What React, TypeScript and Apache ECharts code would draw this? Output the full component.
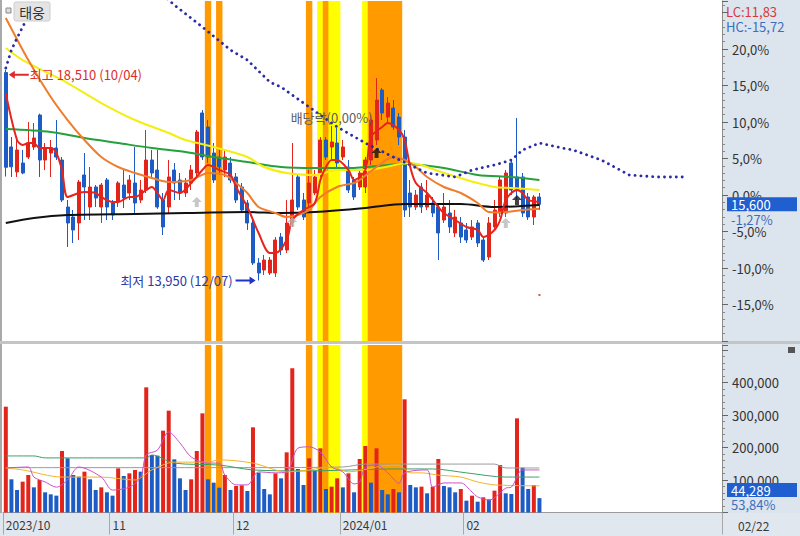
import React, { useEffect, useRef } from 'react';
import * as echarts from 'echarts';

const stockName = '태웅';
const basePrice = 15800;
const dates = [
  '10/04','10/05','10/06','10/10','10/11','10/12','10/13','10/16','10/17','10/18','10/19','10/20','10/23','10/24','10/25','10/26','10/27','10/30','10/31',
  '11/01','11/02','11/03','11/06','11/07','11/08','11/09','11/10','11/13','11/14','11/15','11/16','11/17','11/20','11/21','11/22','11/23','11/24','11/27','11/28','11/29','11/30',
  '12/01','12/04','12/05','12/06','12/07','12/08','12/11','12/12','12/13','12/14','12/15','12/18','12/19','12/20','12/21','12/22','12/26','12/27','12/28',
  '01/02','01/03','01/04','01/05','01/08','01/09','01/10','01/11','01/12','01/15','01/16','01/17','01/18','01/19','01/22','01/23','01/24','01/25','01/26','01/29','01/30','01/31',
  '02/01','02/02','02/05','02/06','02/07','02/08','02/13','02/14','02/15','02/16','02/19','02/20','02/21','02/22'
];
const futureSlots = 32;
const monthStartIdx = [0, 19, 41, 60, 82];
const monthLabels = ['2023/10', '11', '12', '2024/01', '02'];

const opens = [18450,16840,16300,16492,16622,16839,17531,16557,16709,16817,16557,15540,15324,15194,16233,15540,15973,15540,16125,15627,
  15649,16016,15843,16060,15692,15908,16557,16341,15692,15540,16341,16125,15843,16060,16276,17575,17272,16709,16622,16341,
  16492,16190,15973,15627,15194,14328,14177,14112,14112,14891,14610,15194,16190,15692,15627,15843,16276,16990,16839,16925,
  16622,16406,16125,15973,15973,16557,16990,18072,17488,17683,17488,17055,15843,15540,15973,15540,15627,15540,15259,15410,
  14978,15194,15043,14891,15194,14826,14458,15108,15410,15410,16492,16190,16190,15757,15324,15757];
const closes = [16400,16410,16774,16276,16925,17034,16557,16817,16817,16622,15692,15194,15043,16081,15973,15973,15735,16016,15540,15367,
  16060,15735,16125,15627,15908,16557,16276,15540,15108,16190,16060,15843,16060,16341,17164,16622,16622,16125,16406,16622,
  16125,15692,15475,15194,14328,14112,14393,14393,14826,14610,15194,15692,15540,15324,16060,16190,16990,16622,16947,16492,
  16839,15908,15757,16276,16557,17423,17856,17575,17791,17272,17055,15475,15540,15800,15540,15800,15410,14978,15540,15108,
  15324,14891,14826,15108,14761,14393,15194,15475,16125,16276,15908,15908,15410,15324,15757,15600];
const lows = [16200,16190,16190,16250,16580,16774,16190,16341,16190,16557,15649,14675,14761,14826,15259,15259,15540,15194,15259,15259,
  15540,15519,15692,15410,15627,15843,16190,15500,14934,15410,15692,15692,15757,15908,16190,16557,16492,16060,16233,16190,
  16060,15627,15410,15043,14285,13950,14069,14069,14026,14502,14545,15108,15475,15259,15540,15800,16190,16557,16557,16406,
  16557,15843,15692,15908,15843,16449,16882,17423,17358,17207,16882,15324,15324,15475,15410,15475,15324,14393,15194,14978,
  14891,14761,14761,14826,14675,14350,14393,15043,15324,15324,15800,15692,15324,15259,15151,15475];
const highs = [18510,17055,17055,16774,17380,17358,17560,16925,16990,17423,16622,15692,15475,16125,16709,16406,16016,16060,16168,15692,
  16100,16341,16233,16839,16125,17207,16774,16774,15843,16557,16492,16276,16168,16449,17207,17639,17423,16925,16774,16774,
  16622,16276,16060,15692,15259,14437,14502,14458,14891,14978,15692,16925,16233,15843,16341,16341,17055,17055,17293,17250,
  16990,16557,16190,16341,16622,17531,18332,18115,17921,17856,17575,17207,16125,15908,16060,16125,15757,15627,15843,15692,
  15475,15324,15194,15259,15259,14891,15324,15692,16190,16341,16557,17466,16276,15843,15800,15843];

const volumes = [325600,102100,69200,94900,115400,77400,100000,62100,55900,51800,
  189200,166700,115400,110300,125600,102100,69200,77400,62100,51800,
  135900,112300,120500,130800,125600,385100,176900,174900,251800,313300,
  163600,105100,69200,102100,189200,305100,102100,91800,76400,115400,
  69200,81500,83600,66200,262100,122600,72300,55900,120500,105100,
  185100,443600,133800,84600,166700,128700,197400,72300,79500,105100,
  77400,120500,62100,164600,204600,91800,197400,69200,55900,72300,
  62100,348200,84600,77400,79500,59000,79500,164600,81500,77400,
  62100,72300,36400,51800,33300,46700,40500,67200,146200,59000,
  56900,289700,137900,72300,84600,44289];
const volumeRatioText = '53,84%';

const ma5 = [[0,18000],[2,16990],[3,16882],[4,16925],[5,16925],[6,16817],[8,16817],[9,16709],[10,16341],[11,15757],[13,15843],[14,15865],[16,15843],[17,15757],[19,15649],[20,15649],[22,15757],[23,15757],[25,15908],[26,15973],[27,15843],[28,15692],[29,15908],[31,15843],[33,16060],[35,16341],[36,16449],[38,16341],[40,16233],[41,15973],[43,15540],[45,14978],[47,14545],[48,14545],[50,14826],[51,15259],[53,15475],[55,15627],[56,16125],[57,16406],[58,16557],[59,16557],[61,16341],[62,16125],[64,16341],[65,17055],[67,17272],[68,17358],[70,17207],[71,16990],[72,16406],[73,16060],[75,15843],[77,15540],[78,15410],[80,15259],[82,15108],[84,15043],[85,14891],[87,15043],[88,15259],[89,15692],[90,15843],[91,15908],[92,15843],[93,15692],[95,15649]];
const ma20 = [[0,19630],[4,18721],[8,17921],[11,17423],[14,16990],[17,16622],[20,16406],[23,16276],[26,16168],[29,16081],[33,16125],[36,16276],[39,16233],[41,16060],[43,15843],[45,15540],[48,15410],[50,15324],[52,15367],[54,15475],[56,15757],[59,15973],[62,16060],[63,16125],[66,16406],[69,16622],[71,16557],[73,16406],[75,16190],[78,15973],[81,15843],[84,15627],[86,15430],[88,15420],[91,15460],[95,15500]];
const ma60 = [[0,18981],[3,18721],[11,18224],[17,17791],[23,17423],[29,17142],[32,16990],[37,16839],[43,16622],[46,16406],[50,16276],[55,16233],[59,16341],[64,16341],[72,16492],[78,16276],[84,16060],[87,15973],[90,15951],[95,15908]];
const ma120 = [[0,17228],[8,17163],[14,17033],[20,16925],[26,16817],[32,16731],[37,16622],[43,16514],[49,16406],[55,16384],[61,16384],[71,16471],[78,16384],[84,16233],[90,16190],[95,16125]];
const ma240 = [[0,15194],[5,15302],[11,15367],[23,15389],[32,15410],[43,15432],[49,15410],[55,15432],[64,15519],[71,15605],[81,15605],[87,15540],[95,15584]];
const leadingSpan = [[0,18548],[1,18938],[2,19197],[3,19436],[4,19674],[5,19912],[8,20500],[18,20800],[26,20400],[29,20020],[30,19912],[35,19436],[40,18938],[43,18721],[47,18245],[49,18137],[53,17791],[59,17272],[64,16925],[69,16622],[75,16276],[80,16190],[83,16341],[87,16449],[90,16557],[92,16774],[95,16925],[99,16817],[101,16774],[106,16557],[111,16233],[116,16190],[121,16190]];

const volMa5 = [[0,137000],[4,140000],[5,109000],[7,94000],[9,78000],[11,100000],[13,140000],[17,109000],[19,69000],[22,78000],[24,109000],[25,177000],[27,192000],[29,248000],[31,214000],[33,171000],[36,152000],[38,152000],[39,115000],[41,85000],[43,85000],[45,125000],[48,122000],[50,125000],[52,198000],[54,202000],[56,186000],[58,140000],[60,125000],[62,88000],[63,94000],[64,140000],[66,146000],[68,122000],[70,90000],[71,122000],[75,131000],[76,78000],[78,91000],[81,91000],[83,63000],[84,48000],[86,38000],[89,75000],[90,78000],[92,131000],[95,131000]];
const volMa20 = [[0,137000],[3,131000],[10,109000],[17,109000],[23,100000],[26,131000],[30,155000],[36,155000],[38,162000],[44,152000],[50,125000],[54,131000],[58,140000],[61,125000],[67,143000],[70,146000],[72,122000],[74,122000],[77,115000],[81,109000],[84,94000],[87,85000],[95,82000]];
const volMa60 = [[0,174000],[5,174000],[7,168000],[25,168000],[26,177000],[30,152000],[38,146000],[44,131000],[53,128000],[70,134000],[76,134000],[82,122000],[89,109000],[95,109000]];
const volMa120 = [[0,138000],[40,138000],[60,140000],[64,149000],[70,149000],[87,149000],[89,137000],[95,137000]];

const orangeBands = [36, 38, 54, 57, 65, 66, 67, 68, 69, 70];
const yellowBands = [56, 58, 59, 64];
const grayArrows = [[34,15650],[51,15216],[89,15194]];
const blackArrows = [[66,16709],[91,15692]];
const redMarks = [[95,13636]];
const exDividendText = '배당락(0,00%)';
const exDividendAt = [58, 17488];

const UP = '#e3241b';
const DOWN = '#1d5cc4';
const FONT = "'Noto Sans CJK KR', 'Noto Sans', sans-serif";

const withCommas = (n: number) => String(Math.round(n)).replace(/\B(?=(\d{3})+(?!\d))/g, ',');
const pctText = (p: number, d: number) => p.toFixed(d).replace('.', ',');
const arrowUp = 'path://M5,0L10,5L7,5L7,10L3,10L3,5L0,5Z';

export default function App() {
  const ref = useRef<HTMLDivElement>(null);
  useEffect(() => {
    const chart = echarts.init(ref.current!, null, { renderer: 'svg' });
    const cats = [...dates, ...Array.from({ length: futureSlots }, (_, i) => 'f' + i)];
    const n = dates.length;
    const candleData = dates.map((_, i) => [opens[i], closes[i], lows[i], highs[i]]);
    const volData = volumes.map((v, i) => ({
      value: v,
      itemStyle: { color: i === 0 || v > volumes[i - 1] ? UP : DOWN },
    }));
    const bandData = cats.map((_, i) =>
      orangeBands.includes(i) ? { value: 1, itemStyle: { color: '#ff9a00' } }
        : yellowBands.includes(i) ? { value: 1, itemStyle: { color: '#ffff00' } } : '-');
    let hiIdx = 0, loIdx = 0;
    highs.forEach((h, i) => { if (h > highs[hiIdx]) hiIdx = i; });
    lows.forEach((l, i) => { if (l < lows[loIdx]) loIdx = i; });
    const last = closes[n - 1];
    const priceMax = basePrice * (1 + 194 / 730);
    const priceMin = basePrice * 0.8;
    const step = basePrice * 0.05;
    const volMax = 515385;

    const line = (data: number[][], color: string, width: number, x = 0, y = 0, z = 4) => ({
      type: 'line', data, xAxisIndex: x, yAxisIndex: y, symbol: 'none', smooth: 0.3, z,
      lineStyle: { color, width }, silent: true,
    });

    const rightAxisCommon = {
      position: 'right',
      axisLine: { show: true, lineStyle: { color: '#8c8c8c' } },
      axisTick: { show: true, length: 6, lineStyle: { color: '#666' } },
      minorTick: { show: true, splitNumber: 5, length: 3, lineStyle: { color: '#888' } },
      splitLine: { show: false },
    };

    chart.setOption({
      animation: false,
      textStyle: { fontFamily: FONT },
      grid: [
        { left: 3, top: 1, width: 719, height: 340 },
        { left: 3, top: 345, width: 719, height: 167.5 },
      ],
      xAxis: [
        { type: 'category', gridIndex: 0, data: cats, axisLine: { show: false }, axisTick: { show: false }, axisLabel: { show: false } },
        {
          type: 'category', gridIndex: 1, data: cats,
          axisLine: { show: true, lineStyle: { color: '#9a9a9a' } },
          axisTick: { show: true, interval: (i: number) => monthStartIdx.includes(i), length: 22, lineStyle: { color: '#a8a8a8' } },
          axisLabel: {
            show: true, interval: (i: number) => monthStartIdx.includes(i), align: 'left', margin: 6,
            color: '#3a3a3a', fontSize: 12,
            formatter: (_v: string, i: number) => { const k = monthStartIdx.indexOf(i); return k >= 0 ? monthLabels[k] : ''; },
          },
        },
        { type: 'category', gridIndex: 0, data: cats, show: false },
        { type: 'category', gridIndex: 1, data: cats, show: false },
      ],
      yAxis: [
        {
          ...rightAxisCommon, type: 'value', gridIndex: 0, min: priceMin, max: priceMax, interval: step,
          axisLabel: {
            margin: 10, color: '#333', fontSize: 13, showMaxLabel: false,
            formatter: (v: number) => {
              const p = Math.round((v / basePrice - 1) * 1000) / 10;
              if (p > 20 || p < -15) return '';
              return pctText(p, 1) + '%';
            },
          },
        },
        {
          ...rightAxisCommon, type: 'value', gridIndex: 1, min: 0, max: volMax, interval: 100000,
          axisLabel: {
            margin: 10, color: '#333', fontSize: 13, showMaxLabel: false,
            formatter: (v: number) => (v <= 0 || v > 400000 ? '' : withCommas(v)),
          },
        },
        { type: 'value', gridIndex: 0, min: 0, max: 1, show: false },
        { type: 'value', gridIndex: 1, min: 0, max: 1, show: false },
      ],
      series: [
        { type: 'bar', xAxisIndex: 2, yAxisIndex: 2, data: bandData, barWidth: 6.4, barGap: '0%', z: 1, silent: true },
        { type: 'bar', xAxisIndex: 3, yAxisIndex: 3, data: bandData, barWidth: 6.4, barGap: '0%', z: 1, silent: true },
        {
          type: 'candlestick', xAxisIndex: 0, yAxisIndex: 0, data: candleData, barWidth: 3.5, z: 3,
          itemStyle: { color: UP, color0: DOWN, borderColor: UP, borderColor0: DOWN, borderWidth: 1 },
          markPoint: {
            silent: true,
            data: [
              {
                coord: [hiIdx, highs[hiIdx]], symbol: 'path://M0,4L6,0L6,3L20,3L20,5L6,5L6,8Z', symbolSize: [20, 8],
                symbolOffset: [13, 5], itemStyle: { color: '#e02a2a' },
                label: { show: true, position: 'right', distance: 1, color: '#e02a2a', fontSize: 13,
                  formatter: `최고 ${withCommas(highs[hiIdx])} (${dates[hiIdx]})` },
              },
              {
                coord: [loIdx, lows[loIdx]], symbol: 'path://M20,4L14,0L14,3L0,3L0,5L14,5L14,8Z', symbolSize: [20, 8],
                symbolOffset: [-13, 0], itemStyle: { color: '#1f34c8' },
                label: { show: true, position: 'left', distance: 3, color: '#2a3aa8', fontSize: 13,
                  formatter: `최저 ${withCommas(lows[loIdx])} (${dates[loIdx]})` },
              },
              {
                coord: exDividendAt, symbol: 'circle', symbolSize: 1, itemStyle: { color: 'rgba(0,0,0,0)' },
                label: { show: true, position: 'inside', color: '#606060', fontSize: 13, formatter: exDividendText },
              },
            ],
          },
        },
        line(ma240, '#111111', 2),
        line(ma120, '#26a03c', 2),
        line(ma60, '#f4ee10', 2),
        line(ma20, '#ef7d2c', 2),
        line(ma5, '#e8231c', 2, 0, 0, 5),
        {
          type: 'line', xAxisIndex: 0, yAxisIndex: 0, data: leadingSpan, symbol: 'none', z: 4, silent: true,
          lineStyle: { color: '#2b2ba8', width: 2.8, type: [0.1, 5.8], cap: 'round' },
        },
        { type: 'scatter', xAxisIndex: 0, yAxisIndex: 0, data: grayArrows, symbol: arrowUp, symbolSize: [10, 10], itemStyle: { color: '#b9b9b9' }, z: 6, silent: true },
        { type: 'scatter', xAxisIndex: 0, yAxisIndex: 0, data: blackArrows, symbol: arrowUp, symbolSize: [10, 10], itemStyle: { color: '#111' }, z: 6, silent: true },
        { type: 'scatter', xAxisIndex: 0, yAxisIndex: 0, data: redMarks, symbol: 'rect', symbolSize: [2, 2], itemStyle: { color: '#d22' }, z: 6, silent: true },
        { type: 'bar', xAxisIndex: 1, yAxisIndex: 1, data: volData, barWidth: 4, z: 3, silent: true },
        line(volMa120, '#9a9a9a', 1, 1, 1),
        line(volMa60, '#3aa064', 1, 1, 1),
        line(volMa20, '#f0b428', 1, 1, 1),
        line(volMa5, '#cc4fcc', 1, 1, 1),
      ],
    });

    const yc = chart.convertToPixel({ yAxisIndex: 0 }, last) as number;
    const chgHigh = (last / highs[hiIdx] - 1) * 100;
    const chgLow = (last / lows[loIdx] - 1) * 100;
    const chgBase = (last / basePrice - 1) * 100;
    chart.setOption({
      graphic: [
        { type: 'rect', shape: { x: 6, y: 8, width: 5, height: 5 }, style: { fill: '#dcdcdc', stroke: '#8a8a8a', lineWidth: 1 }, z: 10 },
        { type: 'rect', shape: { x: 14, y: 2, width: 36, height: 19, r: 2 }, style: { fill: '#e4e4e4', stroke: '#cdcdcd' }, z: 10 },
        { type: 'text', x: 32, y: 12, style: { text: stockName, fill: '#333', fontSize: 14, fontFamily: FONT, align: 'center', verticalAlign: 'middle' }, z: 11 },
        { type: 'text', x: 726, y: 11, style: { text: 'LC:' + pctText(chgLow, 2), fill: '#d83a3a', fontSize: 13, fontFamily: FONT, verticalAlign: 'middle' }, z: 11 },
        { type: 'text', x: 726, y: 26, style: { text: 'HC:' + pctText(chgHigh, 2), fill: '#3a6fc0', fontSize: 13, fontFamily: FONT, verticalAlign: 'middle' }, z: 11 },
        { type: 'rect', shape: { x: 727, y: yc - 7, width: 70, height: 14 }, style: { fill: '#1f5fd0' }, z: 10 },
        { type: 'text', x: 731, y: yc, style: { text: withCommas(last), fill: '#fff', fontSize: 13, fontFamily: FONT, verticalAlign: 'middle' }, z: 11 },
        { type: 'text', x: 731, y: yc + 15, style: { text: pctText(chgBase, 2) + '%', fill: '#3a6fc0', fontSize: 13, fontFamily: FONT, verticalAlign: 'middle' }, z: 11 },
        { type: 'rect', shape: { x: 727, y: 483, width: 70, height: 14 }, style: { fill: '#1f5fd0' }, z: 10 },
        { type: 'text', x: 731, y: 490, style: { text: withCommas(volumes[n - 1]), fill: '#fff', fontSize: 13, fontFamily: FONT, verticalAlign: 'middle' }, z: 11 },
        { type: 'text', x: 731, y: 504, style: { text: volumeRatioText, fill: '#3a6fc0', fontSize: 13, fontFamily: FONT, verticalAlign: 'middle' }, z: 11 },
        { type: 'rect', shape: { x: 788, y: 347, width: 7, height: 6 }, style: { fill: '#555' }, z: 10 },
        { type: 'text', x: 738, y: 525, style: { text: dates[n - 1], fill: '#3a3a3a', fontSize: 12, fontFamily: FONT, verticalAlign: 'middle' }, z: 11 },
      ],
    });
    return () => chart.dispose();
  }, []);

  return (
    <div style={{ position: 'absolute', left: 0, top: 0, width: 800, height: 536, background: '#fff', overflow: 'hidden' }}>
      <div style={{ position: 'absolute', left: 722, top: 0, width: 78, height: 536, background: '#dce4ed' }} />
      <div style={{ position: 'absolute', left: 0, top: 513, width: 800, height: 23, background: '#e1e7ef' }} />
      <div style={{ position: 'absolute', left: 0, top: 0, width: 2, height: 513, background: '#a9a9a9' }} />
      <div style={{ position: 'absolute', left: 0, top: 341, width: 800, height: 3, background: '#c4c4c4' }} />
      <div ref={ref} style={{ position: 'absolute', left: 0, top: 0, width: 800, height: 536 }} />
    </div>
  );
}
